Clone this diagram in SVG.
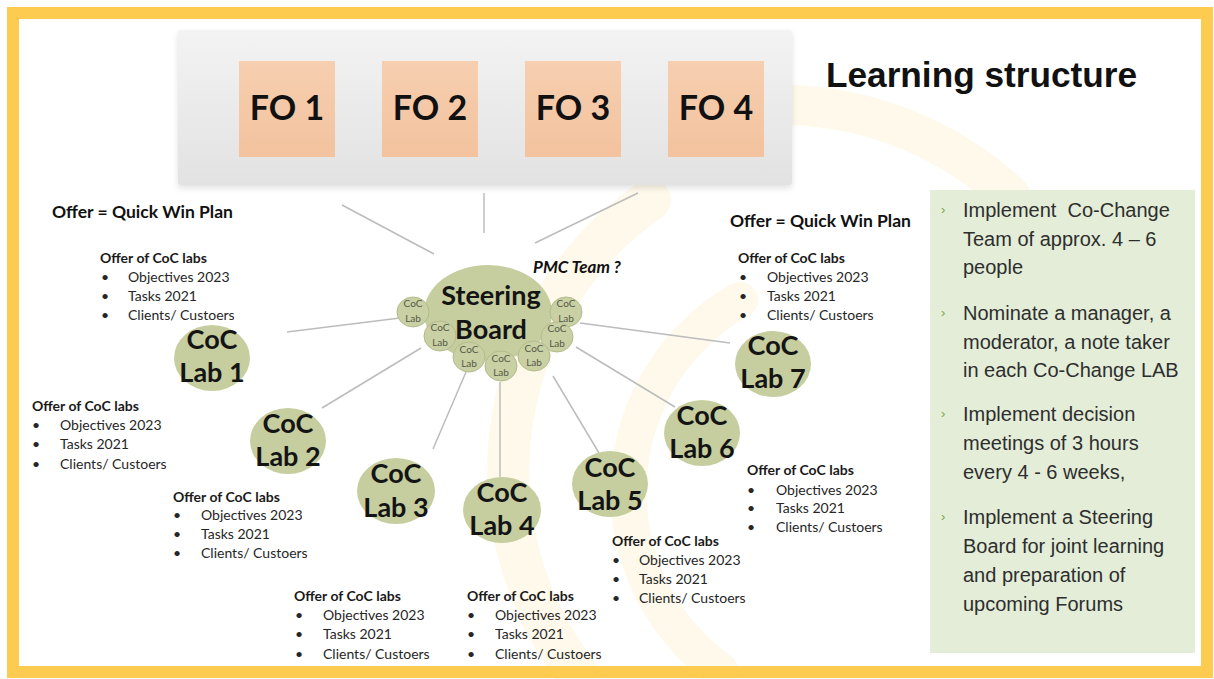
<svg xmlns="http://www.w3.org/2000/svg" width="1214" height="679" viewBox="0 0 1214 679">
  <style>
    .cal { font-family: Lato, "Liberation Sans", sans-serif; }
    .fo { font-size: 34px; font-weight: bold; fill: #111; text-anchor: middle; }
    .lab { font-size: 27px; font-weight: bold; fill: #141414; text-anchor: middle; }
    .mini { font-size: 10px; fill: #55584a; text-anchor: middle; }
    .offer-h { font-size: 14px; font-weight: bold; fill: #1a1a1a; }
    .offer-i { font-size: 14px; fill: #262626; }
    .plan { font-size: 17.5px; font-weight: bold; fill: #111; }
    .panel { font-family: "Liberation Sans", Arial, sans-serif; font-size: 20px; fill: #2e2e2e; }
    .chev { font-family: "Liberation Sans", Arial, sans-serif; font-size: 13px; fill: #7aa84a; }
    .conn line { stroke: #bcbcbc; stroke-width: 1.5; }
    .labfill { fill: #c6cd9e; }
    .minifill { fill: #c9d0a3; stroke: #b3bb8c; stroke-width: 1; }
  </style>
  <defs>
    <linearGradient id="bannerGrad" x1="0" y1="0" x2="0" y2="1">
      <stop offset="0" stop-color="#f3f3f3"/>
      <stop offset="1" stop-color="#e2e2e2"/>
    </linearGradient>
    <linearGradient id="foGrad" x1="0" y1="0" x2="0" y2="1">
      <stop offset="0" stop-color="#f6cfb0"/>
      <stop offset="1" stop-color="#f3c29e"/>
    </linearGradient>
    <filter id="soft" x="-5%" y="-10%" width="110%" height="125%">
      <feDropShadow dx="0" dy="3" stdDeviation="3" flood-color="#000" flood-opacity="0.12"/>
    </filter>
  </defs>

  <!-- page -->
  <rect x="0" y="0" width="1214" height="679" fill="#ffffff"/>

  <!-- faint background logo arcs -->
  <g id="watermark" fill="none" stroke="#fef9ea" stroke-linecap="round">
    <path d="M 650 200 A 330 330 0 0 0 575 670" stroke-width="42"/>
    <path d="M 740 300 A 220 220 0 0 0 720 670" stroke-width="36"/>
    <path d="M 790 105 A 340 340 0 0 1 1010 195" stroke-width="40"/>
  </g>

  <!-- outer frame -->
  <rect x="13" y="13" width="1194" height="659" fill="none" stroke="#fdcb50" stroke-width="12"/>

  <!-- forum banner -->
  <g id="forum-banner">
    <rect x="178" y="30" width="614" height="155" rx="3" fill="url(#bannerGrad)" filter="url(#soft)"/>
  </g>
  <g id="fo-1">
    <rect x="239" y="61" width="96" height="96" fill="url(#foGrad)"/>
    <text class="cal fo" x="287" y="120">FO 1</text>
  </g>
  <g id="fo-2">
    <rect x="382" y="61" width="96" height="96" fill="url(#foGrad)"/>
    <text class="cal fo" x="430" y="120">FO 2</text>
  </g>
  <g id="fo-3">
    <rect x="525" y="61" width="96" height="96" fill="url(#foGrad)"/>
    <text class="cal fo" x="573" y="120">FO 3</text>
  </g>
  <g id="fo-4">
    <rect x="668" y="61" width="96" height="96" fill="url(#foGrad)"/>
    <text class="cal fo" x="716" y="120">FO 4</text>
  </g>

  <text id="title" x="826" y="87" font-family="Liberation Sans, Arial, sans-serif" font-size="35" font-weight="bold" fill="#111" textLength="311" lengthAdjust="spacingAndGlyphs">Learning structure</text>

  <!-- connectors -->
  <g id="connectors" class="conn">
    <line x1="342" y1="205" x2="434" y2="254"/>
    <line x1="484" y1="193" x2="484" y2="233"/>
    <line x1="638" y1="193" x2="535" y2="243"/>
    <line x1="287" y1="332" x2="400" y2="318"/>
    <line x1="322" y1="408" x2="421" y2="348"/>
    <line x1="433" y1="449" x2="466" y2="372"/>
    <line x1="500" y1="477" x2="500" y2="382"/>
    <line x1="599" y1="453" x2="553" y2="376"/>
    <line x1="675" y1="407" x2="576" y2="347"/>
    <line x1="730" y1="343" x2="580" y2="323"/>
  </g>

  <!-- steering board cluster -->
  <g id="steering-board">
    <ellipse cx="488" cy="313" rx="64" ry="48" class="labfill"/>
    <text class="cal lab" x="491" y="305">Steering</text>
    <text class="cal lab" x="491" y="339">Board</text>
    <g id="sb-lab-a"><ellipse cx="413" cy="312" rx="16" ry="15" class="minifill"/><text class="cal mini" x="413" y="307">CoC</text><text class="cal mini" x="413" y="322">Lab</text></g>
    <g id="sb-lab-g"><ellipse cx="566" cy="312" rx="16" ry="15" class="minifill"/><text class="cal mini" x="566" y="307">CoC</text><text class="cal mini" x="566" y="322">Lab</text></g>
    <g id="sb-lab-b"><ellipse cx="440" cy="336" rx="16" ry="15" class="minifill"/><text class="cal mini" x="440" y="331">CoC</text><text class="cal mini" x="440" y="346">Lab</text></g>
    <g id="sb-lab-f"><ellipse cx="557" cy="337" rx="16" ry="15" class="minifill"/><text class="cal mini" x="557" y="332">CoC</text><text class="cal mini" x="557" y="347">Lab</text></g>
    <g id="sb-lab-c"><ellipse cx="469" cy="357" rx="16" ry="15" class="minifill"/><text class="cal mini" x="469" y="353">CoC</text><text class="cal mini" x="469" y="367">Lab</text></g>
    <g id="sb-lab-e"><ellipse cx="534" cy="356" rx="16" ry="15" class="minifill"/><text class="cal mini" x="534" y="352">CoC</text><text class="cal mini" x="534" y="366">Lab</text></g>
    <g id="sb-lab-d"><ellipse cx="501" cy="366" rx="16" ry="15" class="minifill"/><text class="cal mini" x="501" y="362">CoC</text><text class="cal mini" x="501" y="376">Lab</text></g>
  </g>

  <text id="pmc-team" class="cal" x="533" y="273" font-size="17" font-weight="bold" font-style="italic" fill="#111">PMC Team ?</text>

  <!-- CoC labs -->
  <g id="lab-1">
    <ellipse cx="212" cy="358" rx="38" ry="33" class="labfill"/>
    <text class="cal lab" x="212" y="349">CoC</text>
    <text class="cal lab" x="212" y="382">Lab 1</text>
  </g>
  <g id="lab-2">
    <ellipse cx="288" cy="441" rx="38" ry="33" class="labfill"/>
    <text class="cal lab" x="288" y="433">CoC</text>
    <text class="cal lab" x="288" y="466">Lab 2</text>
  </g>
  <g id="lab-3">
    <ellipse cx="396" cy="491" rx="39" ry="33" class="labfill"/>
    <text class="cal lab" x="396" y="483">CoC</text>
    <text class="cal lab" x="396" y="517">Lab 3</text>
  </g>
  <g id="lab-4">
    <ellipse cx="502" cy="510" rx="39" ry="33" class="labfill"/>
    <text class="cal lab" x="502" y="502">CoC</text>
    <text class="cal lab" x="502" y="535">Lab 4</text>
  </g>
  <g id="lab-5">
    <ellipse cx="610" cy="484" rx="38" ry="33" class="labfill"/>
    <text class="cal lab" x="610" y="477">CoC</text>
    <text class="cal lab" x="610" y="510">Lab 5</text>
  </g>
  <g id="lab-6">
    <ellipse cx="702" cy="433" rx="38" ry="33" class="labfill"/>
    <text class="cal lab" x="702" y="425">CoC</text>
    <text class="cal lab" x="702" y="458">Lab 6</text>
  </g>
  <g id="lab-7">
    <ellipse cx="773" cy="364" rx="38" ry="33" class="labfill"/>
    <text class="cal lab" x="773" y="355">CoC</text>
    <text class="cal lab" x="773" y="388">Lab 7</text>
  </g>

  <!-- plan labels -->
  <text class="cal plan" x="52" y="218">Offer = Quick Win Plan</text>
  <text class="cal plan" x="730" y="227">Offer = Quick Win Plan</text>

  <!-- offers attached to each lab -->
  <g id="offer-1" class="cal">
    <text class="offer-h" x="100" y="263">Offer of CoC labs</text>
    <text class="offer-i" x="101" y="282">•</text><text class="offer-i" x="128" y="282">Objectives 2023</text>
    <text class="offer-i" x="101" y="301">•</text><text class="offer-i" x="128" y="301">Tasks 2021</text>
    <text class="offer-i" x="101" y="320">•</text><text class="offer-i" x="128" y="320">Clients/ Custoers</text>
  </g>
  <g id="offer-2" class="cal">
    <text class="offer-h" x="32" y="411">Offer of CoC labs</text>
    <text class="offer-i" x="32" y="430">•</text><text class="offer-i" x="60" y="430">Objectives 2023</text>
    <text class="offer-i" x="32" y="449">•</text><text class="offer-i" x="60" y="449">Tasks 2021</text>
    <text class="offer-i" x="32" y="469">•</text><text class="offer-i" x="60" y="469">Clients/ Custoers</text>
  </g>
  <g id="offer-3" class="cal">
    <text class="offer-h" x="173" y="502">Offer of CoC labs</text>
    <text class="offer-i" x="173" y="520">•</text><text class="offer-i" x="201" y="520">Objectives 2023</text>
    <text class="offer-i" x="173" y="539">•</text><text class="offer-i" x="201" y="539">Tasks 2021</text>
    <text class="offer-i" x="173" y="558">•</text><text class="offer-i" x="201" y="558">Clients/ Custoers</text>
  </g>
  <g id="offer-4" class="cal">
    <text class="offer-h" x="294" y="601">Offer of CoC labs</text>
    <text class="offer-i" x="295" y="620">•</text><text class="offer-i" x="323" y="620">Objectives 2023</text>
    <text class="offer-i" x="295" y="639">•</text><text class="offer-i" x="323" y="639">Tasks 2021</text>
    <text class="offer-i" x="295" y="659">•</text><text class="offer-i" x="323" y="659">Clients/ Custoers</text>
  </g>
  <g id="offer-5" class="cal">
    <text class="offer-h" x="467" y="601">Offer of CoC labs</text>
    <text class="offer-i" x="467" y="620">•</text><text class="offer-i" x="495" y="620">Objectives 2023</text>
    <text class="offer-i" x="467" y="639">•</text><text class="offer-i" x="495" y="639">Tasks 2021</text>
    <text class="offer-i" x="467" y="659">•</text><text class="offer-i" x="495" y="659">Clients/ Custoers</text>
  </g>
  <g id="offer-6" class="cal">
    <text class="offer-h" x="612" y="546">Offer of CoC labs</text>
    <text class="offer-i" x="612" y="565">•</text><text class="offer-i" x="639" y="565">Objectives 2023</text>
    <text class="offer-i" x="612" y="584">•</text><text class="offer-i" x="639" y="584">Tasks 2021</text>
    <text class="offer-i" x="612" y="603">•</text><text class="offer-i" x="639" y="603">Clients/ Custoers</text>
  </g>
  <g id="offer-7" class="cal">
    <text class="offer-h" x="747" y="475">Offer of CoC labs</text>
    <text class="offer-i" x="747" y="495">•</text><text class="offer-i" x="776" y="495">Objectives 2023</text>
    <text class="offer-i" x="747" y="513">•</text><text class="offer-i" x="776" y="513">Tasks 2021</text>
    <text class="offer-i" x="747" y="532">•</text><text class="offer-i" x="776" y="532">Clients/ Custoers</text>
  </g>
  <g id="offer-8" class="cal">
    <text class="offer-h" x="738" y="263">Offer of CoC labs</text>
    <text class="offer-i" x="739" y="282">•</text><text class="offer-i" x="767" y="282">Objectives 2023</text>
    <text class="offer-i" x="739" y="301">•</text><text class="offer-i" x="767" y="301">Tasks 2021</text>
    <text class="offer-i" x="739" y="320">•</text><text class="offer-i" x="767" y="320">Clients/ Custoers</text>
  </g>

  <!-- action panel -->
  <g id="actions-panel">
    <rect x="930" y="190" width="265" height="463" fill="#e3edd8"/>
    <text class="chev" x="941" y="214">›</text>
    <text class="panel" x="963" y="217">Implement&#160; Co-Change</text>
    <text class="panel" x="963" y="246">Team of approx. 4 – 6</text>
    <text class="panel" x="963" y="274">people</text>
    <text class="chev" x="941" y="317">›</text>
    <text class="panel" x="963" y="320">Nominate a manager, a</text>
    <text class="panel" x="963" y="349">moderator, a note taker</text>
    <text class="panel" x="963" y="377">in each Co-Change LAB</text>
    <text class="chev" x="941" y="418">›</text>
    <text class="panel" x="963" y="421">Implement decision</text>
    <text class="panel" x="963" y="450">meetings of 3 hours</text>
    <text class="panel" x="963" y="479">every 4 - 6 weeks,</text>
    <text class="chev" x="941" y="521">›</text>
    <text class="panel" x="963" y="524">Implement a Steering</text>
    <text class="panel" x="963" y="553">Board for joint learning</text>
    <text class="panel" x="963" y="582">and preparation of</text>
    <text class="panel" x="963" y="611">upcoming Forums</text>
  </g>
</svg>
